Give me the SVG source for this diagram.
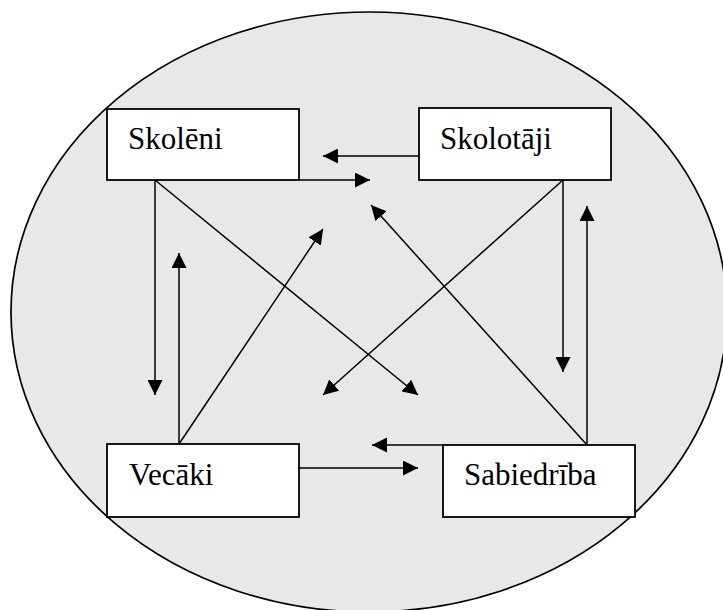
<svg xmlns="http://www.w3.org/2000/svg" width="723" height="610" viewBox="0 0 723 610">
  <style>
    .box { fill: #ffffff; stroke: #000000; stroke-width: 1.8; }
    .label { font-family: "Liberation Serif", "Times New Roman", serif; font-size: 31px; fill: #000000; }
    .link { fill: none; stroke: #000000; stroke-width: 1.5; marker-end: url(#arrow); }
  </style>
  <defs>
    <marker id="arrow" markerUnits="userSpaceOnUse" markerWidth="16" markerHeight="15" refX="15" refY="7.5" orient="auto">
      <path d="M0,0 L15,7.5 L0,15 Z" fill="#000000"/>
    </marker>
  </defs>

  <!-- surrounding environment -->
  <ellipse id="environment" cx="369" cy="312" rx="358" ry="300" fill="#e8e8e8" stroke="#000000" stroke-width="1.7"/>

  <!-- connectors between the four groups -->
  <g id="connectors">
    <line class="link" x1="419" y1="156" x2="323" y2="156"/>
    <polyline class="link" points="299,180 370,180"/>
    <line class="link" x1="155" y1="180" x2="155" y2="395"/>
    <line class="link" x1="179" y1="444" x2="179" y2="253"/>
    <line class="link" x1="179" y1="444" x2="323" y2="229"/>
    <line class="link" x1="155" y1="180" x2="418" y2="395"/>
    <line class="link" x1="563" y1="180" x2="323" y2="395"/>
    <line class="link" x1="563" y1="180" x2="563" y2="372"/>
    <line class="link" x1="587" y1="445" x2="587" y2="206"/>
    <line class="link" x1="587" y1="445" x2="371" y2="205"/>
    <line class="link" x1="443" y1="445" x2="372" y2="445"/>
    <line class="link" x1="299" y1="468" x2="418" y2="468"/>
  </g>

  <g id="skoleni">
    <rect class="box" x="107" y="109" width="192" height="71"/>
    <text class="label" x="128" y="149">Skolēni</text>
  </g>

  <g id="skolotaji">
    <rect class="box" x="419" y="108" width="192" height="72"/>
    <text class="label" x="440" y="149">Skolotāji</text>
  </g>

  <g id="vecaki">
    <rect class="box" x="107" y="444" width="192" height="73"/>
    <text class="label" x="129" y="485">Vecāki</text>
  </g>

  <g id="sabiedriba">
    <rect class="box" x="443" y="445" width="192" height="72"/>
    <text class="label" x="464" y="485">Sabiedrība</text>
  </g>
</svg>
